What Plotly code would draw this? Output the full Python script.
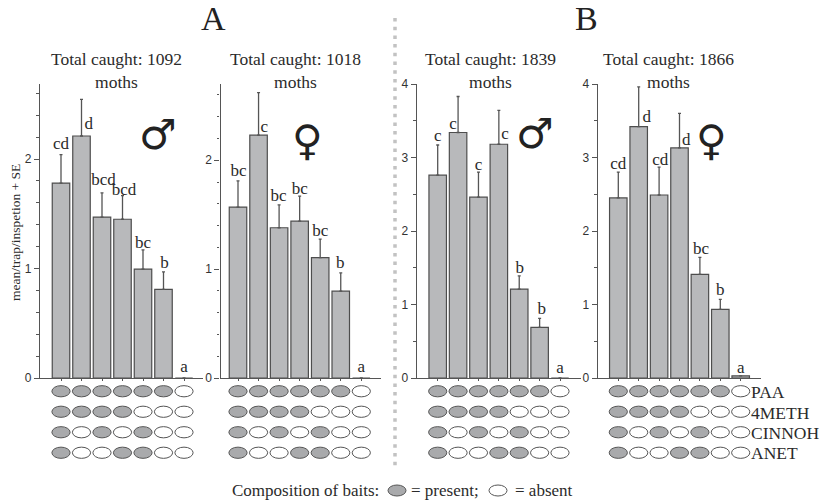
import plotly.graph_objects as go

W, H = 821, 502
SERIF = "Liberation Serif"
SANS = "Liberation Sans"

treatments = [1, 2, 3, 4, 5, 6, 7]
titles = ["Total caught: 1092<br>moths", "Total caught: 1018<br>moths",
          "Total caught: 1839<br>moths", "Total caught: 1866<br>moths"]

means_a_male = [1.78, 2.21, 1.47, 1.45, 0.995, 0.81, 0]
means_a_female = [1.57, 2.23, 1.38, 1.44, 1.106, 0.797, 0]
means_b_male = [2.76, 3.34, 2.46, 3.18, 1.21, 0.69, 0]
means_b_female = [2.45, 3.42, 2.49, 3.13, 1.41, 0.935, 0.03]

se_a_male = [0.26, 0.335, 0.22, 0.215, 0.175, 0.16, 0]
se_a_female = [0.24, 0.39, 0.21, 0.23, 0.169, 0.168, 0]
se_b_male = [0.41, 0.49, 0.34, 0.46, 0.18, 0.12, 0]
se_b_female = [0.35, 0.54, 0.38, 0.47, 0.23, 0.135, 0]

letters_a_male = ["cd", "d", "bcd", "bcd", "bc", "b", "a"]
letters_a_female = ["bc", "c", "bc", "bc", "bc", "b", "a"]
letters_b_male = ["c", "c", "c", "c", "b", "b", "a"]
letters_b_female = ["cd", "d", "cd", "d", "bc", "b", "a"]

letter_y_a_male = [2.13, 2.31, 1.80, 1.71, 1.23, 1.04, 0.09]
letter_y_a_female = [1.89, 2.30, 1.66, 1.73, 1.34, 1.05, 0.09]
letter_y_b_male = [3.28, 3.44, 2.89, 3.31, 1.48, 0.93, 0.13]
letter_y_b_female = [2.90, 3.54, 2.96, 3.23, 1.74, 1.19, 0.12]

letter_dx_a_male = [0, 0.35, 0.07, 0.07, 0, 0.05, 0]
letter_dx_a_female = [0.03, 0.28, -0.03, 0, 0, -0.03, 0]
letter_dx_b_male = [0, -0.25, 0, 0.3, 0.03, 0.1, 0]
letter_dx_b_female = [0, 0.39, 0.06, 0.33, 0.05, 0, 0]

bait_names = ["PAA", "4METH", "CINNOH", "ANET"]
bait_paa = [1, 1, 1, 1, 1, 1, 0]
bait_4meth = [1, 1, 1, 1, 0, 0, 0]
bait_cinnoh = [1, 0, 1, 0, 1, 0, 0]
bait_anet = [1, 0, 0, 1, 1, 0, 0]
bait_rows = [bait_paa, bait_4meth, bait_cinnoh, bait_anet]

panels = [
    dict(m=means_a_male, s=se_a_male, l=letters_a_male, ly=letter_y_a_male, dx=letter_dx_a_male,
         left=40, right=203, c0=61, c6=184, ytop=2.685, dtick=1, minor=0.2, sym="\u2642", sx=158, sy=134, title_x=116.7),
    dict(m=means_a_female, s=se_a_female, l=letters_a_female, ly=letter_y_a_female, dx=letter_dx_a_female,
         left=220.5, right=381, c0=238, c6=361.3, ytop=2.70, dtick=1, minor=0.2, sym="\u2640", sx=307, sy=140, title_x=295),
    dict(m=means_b_male, s=se_b_male, l=letters_b_male, ly=letter_y_b_male, dx=letter_dx_b_male,
         left=416.7, right=581, c0=437.7, c6=560, ytop=4.0, dtick=1, minor=0.5, sym="\u2642", sx=535, sy=133, title_x=490.7),
    dict(m=means_b_female, s=se_b_female, l=letters_b_female, ly=letter_y_b_female, dx=letter_dx_b_female,
         left=597.7, right=761, c0=618.3, c6=740.7, ytop=4.0, dtick=1, minor=0.5, sym="\u2640", sx=711, sy=140, title_x=668),
]

TOP, BASE = 84, 378
MAT_TOP, MAT_BOT = 381, 463
AXC = "#555555"
TXT = "#2b2b2b"


def fx(p):
    return p / W


def fy(p):
    return 1 - p / H


fig = go.Figure()
annotations, shapes = [], []
layout = {}

for i, p in enumerate(panels):
    n = 2 * i + 1
    xa, ya = ("x" if n == 1 else f"x{n}"), ("y" if n == 1 else f"y{n}")
    xb, yb = f"x{n + 1}", f"y{n + 1}"
    step = (p["c6"] - p["c0"]) / 6
    rng = [1 + (p["left"] - p["c0"]) / step, 1 + (p["right"] - p["c0"]) / step]
    dom = [fx(p["left"]), fx(p["right"])]

    se = [v if v > 0 else None for v in p["s"]]
    fig.add_trace(go.Bar(
        x=treatments, y=p["m"], xaxis=xa, yaxis=ya, width=17.5 / step,
        marker=dict(color="#b8b9bb", line=dict(color="#4d4d4d", width=1.2)),
        error_y=dict(type="data", symmetric=False, array=se, arrayminus=[0] * 7,
                     color="#555555", thickness=1.3, width=1.5),
    ))
    fig.add_trace(go.Scatter(
        x=[t + d for t, d in zip(treatments, p["dx"])], y=p["ly"], text=p["l"],
        mode="text", xaxis=xa, yaxis=ya, cliponaxis=False,
        textfont=dict(family=SERIF, size=17, color=TXT), textposition="middle center",
    ))
    layout[f"xaxis{'' if n == 1 else n}"] = dict(
        domain=dom, range=rng, anchor=ya, showgrid=False, zeroline=False,
        showline=True, linecolor=AXC, linewidth=1.3,
        tickvals=treatments, ticks="outside", ticklen=2, tickcolor=AXC, showticklabels=False,
    )
    layout[f"yaxis{'' if n == 1 else n}"] = dict(
        domain=[fy(BASE), fy(TOP)], range=[0, p["ytop"]], anchor=xa, showgrid=False, zeroline=False,
        showline=True, linecolor=AXC, linewidth=1.3,
        tick0=0, dtick=p["dtick"], ticks="outside", ticklen=5, tickcolor=AXC,
        minor=dict(dtick=p["minor"], ticks="outside", ticklen=2.5, tickcolor=AXC),
        tickfont=dict(family=SANS, size=12, color="#333333"),
    )
    # bait composition matrix
    fig.add_trace(go.Scatter(
        x=treatments * 4, y=[r for r in bait_names for _ in treatments],
        mode="markers", marker=dict(opacity=0, size=1), xaxis=xb, yaxis=yb,
    ))
    layout[f"xaxis{n + 1}"] = dict(domain=dom, range=rng, anchor=yb, visible=False)
    layout[f"yaxis{n + 1}"] = dict(domain=[fy(MAT_BOT), fy(MAT_TOP)], range=[3.5, -0.5], anchor=xb,
                                   type="category", categoryorder="array", categoryarray=bait_names,
                                   visible=False)
    for r, row in enumerate(bait_rows):
        for t, on in zip(treatments, row):
            shapes.append(dict(
                type="circle", xref=xb, yref=yb, xsizemode="pixel", ysizemode="pixel",
                xanchor=t, yanchor=r, x0=-9.1, x1=9.1, y0=-5.6, y1=5.6,
                fillcolor="#a9aaac" if on else "#ffffff", line=dict(color="#555555", width=1),
            ))
    annotations.append(dict(text=titles[i], x=fx(p["title_x"]), y=fy(70.5), xref="paper", yref="paper",
                            showarrow=False, align="center", xanchor="center", yanchor="middle",
                            font=dict(family=SERIF, size=17.5, color=TXT)))
    annotations.append(dict(text=p["sym"], x=fx(p["sx"]), y=fy(p["sy"]), xref="paper", yref="paper",
                            showarrow=False, xanchor="center", yanchor="middle",
                            font=dict(family="DejaVu Sans", size=42, color="#222222")))

for label, lx in (("A", 213), ("B", 586.7)):
    annotations.append(dict(text=label, x=fx(lx), y=fy(19), xref="paper", yref="paper", showarrow=False,
                            xanchor="center", yanchor="middle", font=dict(family=SERIF, size=34, color="#222222")))

annotations.append(dict(text="mean/trap/inspetion + SE", x=fx(15), y=fy(233), xref="paper", yref="paper",
                        textangle=-90, showarrow=False, xanchor="center", yanchor="middle",
                        font=dict(family=SERIF, size=13.5, color=TXT)))

for name, ry in zip(bait_names, (392, 413, 433, 453)):
    annotations.append(dict(text=name, x=fx(748.5), y=fy(ry), xref="paper", yref="paper", showarrow=False,
                            xanchor="left", yanchor="middle", font=dict(family=SERIF, size=17.5, color=TXT)))

for text, lx in (("Composition of baits:", 230), ("= present;", 409), ("= absent", 513)):
    annotations.append(dict(text=text, x=fx(lx), y=fy(490.5), xref="paper", yref="paper", showarrow=False,
                            xanchor="left", yanchor="middle", font=dict(family=SERIF, size=17, color=TXT)))

for cx, col in ((397, "#a9aaac"), (498, "#ffffff")):
    shapes.append(dict(type="circle", xref="paper", yref="paper",
                       x0=fx(cx - 9), x1=fx(cx + 9), y0=fy(496), y1=fy(485),
                       fillcolor=col, line=dict(color="#555555", width=1)))

shapes.append(dict(type="line", xref="paper", yref="paper", x0=fx(395), x1=fx(395), y0=fy(18), y1=fy(470),
                   line=dict(color="#c2c2c2", width=3.5, dash="3.5px,5.2px")))

fig.update_layout(width=W, height=H, margin=dict(l=0, r=0, t=0, b=0, autoexpand=False), showlegend=False,
                  paper_bgcolor="white", plot_bgcolor="white", annotations=annotations, shapes=shapes,
                  **layout)
fig.write_html("out.html", config={"displayModeBar": False},
               post_script="document.body.style.margin='0';document.documentElement.style.overflow='hidden';")
